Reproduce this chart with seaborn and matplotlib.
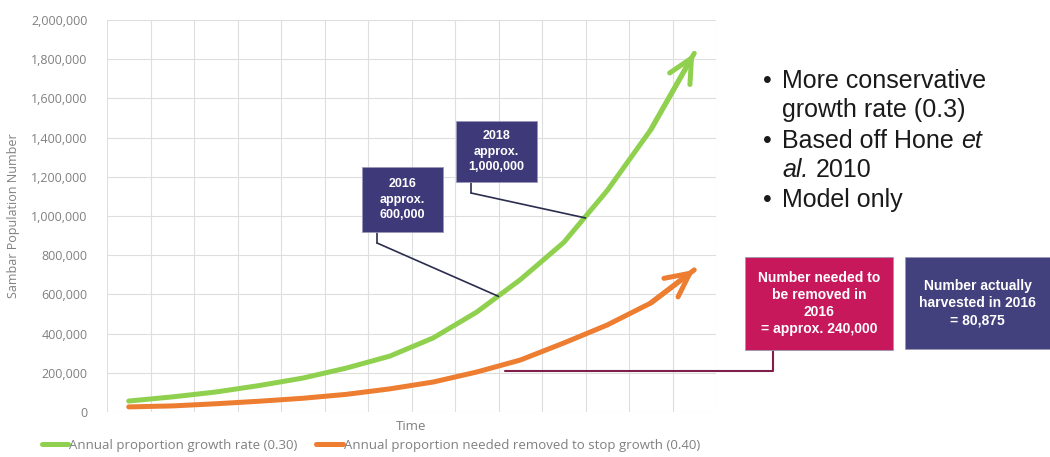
import numpy as np
import pandas as pd
import matplotlib
matplotlib.use('Agg')
import matplotlib.pyplot as plt
import seaborn as sns
from matplotlib.patches import Rectangle, ConnectionPatch
from matplotlib.lines import Line2D

# ---- data ----
time_pos = [0.5, 1.5, 2.5, 3.5, 4.5, 5.5, 6.5, 7.5, 8.5, 9.5, 10.5, 11.5, 12.5, 13.5]
growth_030 = [56000, 77000, 102000, 135000, 173000, 224000, 285000, 378000,
              510000, 675000, 865000, 1130000, 1440000, 1830000]
removed_040 = [26000, 31000, 42000, 55000, 70000, 90000, 118000, 153000,
               204000, 265000, 352000, 444000, 556000, 725000]
series_names = ['Annual proportion growth rate (0.30)',
                'Annual proportion needed removed to stop growth (0.40)']

# annotation anchors (time position, population)
pt_2016 = (9.0, 590000)
pt_2018 = (11.0, 990000)
pt_removed = (9.15, 210000)

# bullet lines: list of (text, italic) pieces
bullets = [[('More conservative', False)],
           [('growth rate (0.3)', False)],
           [('Based off Hone', False), ('et', True)],
           [('al.', True), ('2010', False)],
           [('Model only', False)]]

df = pd.DataFrame({
    't': time_pos * 2,
    'population': growth_030 + removed_040,
    'series': [series_names[0]] * len(time_pos) + [series_names[1]] * len(time_pos),
})

GREEN = '#8fd14f'
ORANGE = '#ed7d31'
GREY = '#808080'

sns.set_theme(style='white')
plt.rcParams['font.family'] = ['Open Sans', 'DejaVu Sans']

W, H = 1050, 457
fig = plt.figure(figsize=(W / 100, H / 100), dpi=100)
fig.patch.set_facecolor('white')


def fx(px):
    return px / W


def fy(py):
    return 1 - py / H


ax = fig.add_axes([fx(107), fy(412), fx(716) - fx(107), fy(20) - fy(412)])

sns.lineplot(data=df, x='t', y='population', hue='series', hue_order=series_names,
             palette=[GREEN, ORANGE], lw=3.6, ax=ax, legend=False)

# arrow heads at the end of each curve
for vals, col in [(growth_030, GREEN), (removed_040, ORANGE)]:
    ax.annotate('', xy=(time_pos[-1], vals[-1]), xytext=(time_pos[-2], vals[-2]),
                arrowprops=dict(arrowstyle='->,head_length=0.85,head_width=0.42',
                                color=col, lw=3.6, shrinkA=0, shrinkB=0,
                                mutation_scale=20))

ax.set_xlim(0, 14)
ax.set_ylim(0, 2000000)
ax.set_xticks(np.arange(0, 15))
ax.set_xticklabels([])
ax.set_yticks(np.arange(0, 2000001, 200000))
ax.set_yticklabels([f'{v:,}' for v in range(0, 2000001, 200000)])
ax.tick_params(axis='both', length=0, labelsize=9, labelcolor=GREY)
ax.tick_params(axis='y', pad=14)
ax.grid(True, color='#dedede', lw=0.8)
for s in ax.spines.values():
    s.set_visible(False)
ax.set_xlabel('Time', fontsize=9.5, color=GREY, labelpad=2)
ax.set_ylabel('Sambar Population Number', fontsize=9, color=GREY, labelpad=8)

handles = [Line2D([0], [0], color=GREEN, lw=3.6), Line2D([0], [0], color=ORANGE, lw=3.6)]
fig.legend(handles, series_names, loc='center', bbox_to_anchor=(fx(371), fy(445)),
           ncol=2, frameon=False, fontsize=9.5, handlelength=2.0, handletextpad=0.1,
           columnspacing=1.4, labelcolor=GREY)


def box(x0, y0, x1, y1, color, text, fs, ls):
    fig.patches.append(Rectangle((fx(x0), fy(y1)), fx(x1) - fx(x0), fy(y0) - fy(y1),
                                 transform=fig.transFigure, facecolor=color,
                                 edgecolor='#9a98b8', lw=0.6, zorder=5))
    fig.text(fx((x0 + x1) / 2), fy((y0 + y1) / 2), text, ha='center', va='center',
             color='white', fontweight='bold', fontsize=fs, linespacing=ls,
             family='Liberation Sans', zorder=6)


def to_fig(pt):
    disp = ax.transData.transform(pt)
    return fig.transFigure.inverted().transform(disp)


DARK = '#3e3a7a'
box(362, 167, 443, 232, DARK, '2016\napprox.\n600,000', 9, 1.4)
box(456, 121, 537, 182, DARK, '2018\napprox.\n1,000,000', 9, 1.4)
box(745, 257, 893, 350, '#c8185c', 'Number needed to\nbe removed in\n2016\n= approx. 240,000', 10, 1.3)
box(905, 257, 1050, 349, '#43407e', 'Number actually\nharvested in 2016\n= 80,875', 10, 1.3)

# elbow connectors for the dark boxes
for (bx, by0, by1), pt in [((377, 232, 243), pt_2016), ((471, 182, 193), pt_2018)]:
    fig.lines.append(Line2D([fx(bx), fx(bx)], [fy(by0), fy(by1)], transform=fig.transFigure,
                            color='#2b2d4f', lw=1.2, zorder=4))
    fig.add_artist(ConnectionPatch(xyA=(fx(bx), fy(by1)), coordsA=fig.transFigure,
                                   xyB=pt, coordsB=ax.transData, color='#2b2d4f', lw=1.2,
                                   zorder=4))

# connector for the removal box
p = to_fig(pt_removed)
fig.lines.append(Line2D([p[0], fx(773), fx(773)], [p[1], p[1], fy(350)],
                        transform=fig.transFigure, color='#7d1f48', lw=1.5, zorder=4))

# bullet text
renderer = fig.canvas.get_renderer()
baselines = [88, 117, 148, 177, 207]
space_px = 7
for i, (pieces, yb) in enumerate(zip(bullets, baselines)):
    if i in (0, 2, 4):
        fig.text(fx(763), fy(yb), '\u2022', fontsize=18, family='Liberation Sans',
                 va='baseline', color='#1a1a1a')
    xpos = 782
    for txt, ital in pieces:
        t = fig.text(fx(xpos), fy(yb), txt, fontsize=18, family='Liberation Sans',
                     style='italic' if ital else 'normal', va='baseline', color='#1a1a1a')
        bb = t.get_window_extent(renderer)
        xpos += bb.width + space_px

fig.savefig('out.png', dpi=100, facecolor='white')
